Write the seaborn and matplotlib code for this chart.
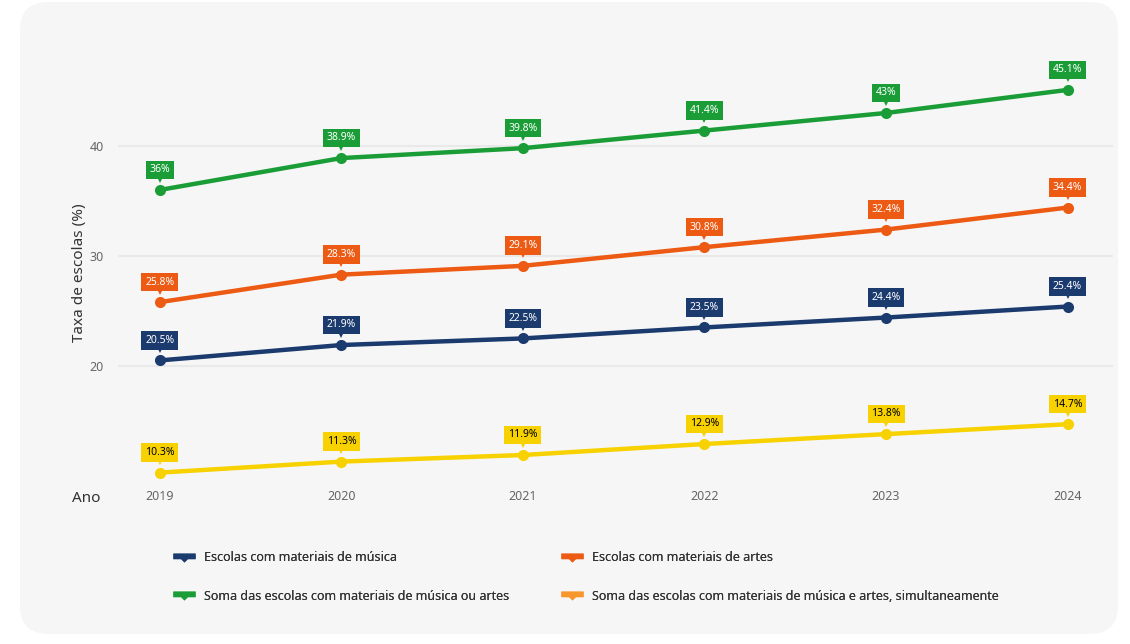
import pandas as pd
import seaborn as sns
import matplotlib.pyplot as plt
from matplotlib.patches import FancyBboxPatch
from matplotlib.lines import Line2D
from matplotlib.path import Path
from matplotlib.transforms import offset_copy

anos = [2019, 2020, 2021, 2022, 2023, 2024]
musica = [20.5, 21.9, 22.5, 23.5, 24.4, 25.4]
artes = [25.8, 28.3, 29.1, 30.8, 32.4, 34.4]
musica_ou_artes = [36.0, 38.9, 39.8, 41.4, 43.0, 45.1]
musica_e_artes = [10.3, 11.3, 11.9, 12.9, 13.8, 14.7]

series = {
    "Escolas com materiais de música": musica,
    "Escolas com materiais de artes": artes,
    "Soma das escolas com materiais de música ou artes": musica_ou_artes,
    "Soma das escolas com materiais de música e artes, simultaneamente": musica_e_artes,
}
cores_linha = ["#1b3a6e", "#ec5a13", "#1a9d37", "#f7d200"]
cores_legenda = ["#1b3a6e", "#ec5a13", "#1a9d37", "#f8962e"]
cores_texto = ["white", "white", "white", "black"]

linhas = []
for nome, valores in series.items():
    for a, v in zip(anos, valores):
        linhas.append({"Ano": a, "Taxa": v, "Serie": nome})
df = pd.DataFrame(linhas)

sns.set_theme(style="white")
plt.rcParams["font.family"] = ["Noto Sans", "DejaVu Sans"]

fig = plt.figure(figsize=(11.3, 6.44), dpi=100)
fig.patch.set_facecolor("white")
W, H = 1130, 644
painel = FancyBboxPatch((20 / W, 10 / H), 1098 / W, 632 / H,
                        boxstyle="round,pad=0,rounding_size=0.025",
                        transform=fig.transFigure, facecolor="#f6f6f6",
                        edgecolor="none", mutation_aspect=W / H, zorder=-5)
fig.patches.append(painel)

ax = fig.add_axes([118 / W, 1 - 488 / H, 995 / W, 430 / H])
ax.set_facecolor("none")

sns.lineplot(data=df, x="Ano", y="Taxa", hue="Serie", palette=cores_linha,
             marker="o", markersize=8, markeredgewidth=0, linewidth=3.2,
             legend=False, ax=ax, zorder=3)

ax.set_xlim(2018.77, 2024.25)
ax.set_ylim(8.9, 48)
ax.set_yticks([20, 30, 40])
ax.set_xticks(anos)
ax.grid(axis="y", color="#e9e9e9", linewidth=1.5)
ax.grid(axis="x", visible=False)
for s in ax.spines.values():
    s.set_visible(False)
ax.tick_params(axis="both", length=0, labelsize=9, labelcolor="#666666")
ax.tick_params(axis="y", pad=10)
ax.tick_params(axis="x", pad=1.5)
ax.set_xlabel("")
ax.set_ylabel("Taxa de escolas (%)", fontsize=11, color="#333333", labelpad=2)
ax.text(-0.018, -0.006, "Ano", transform=ax.transAxes, ha="right", va="top",
        fontsize=11, color="#333333")

# rótulos com caixa e ponteiro
for (nome, valores), cor, ctexto in zip(series.items(), cores_linha, cores_texto):
    tr_pont = offset_copy(ax.transData, fig=fig, y=7.5, units="points")
    for a, v in zip(anos, valores):
        ax.annotate(f"{v:g}%", (a, v), xytext=(0, 14.5), textcoords="offset points",
                    ha="center", va="center", fontsize=7.5, fontweight="bold",
                    color=ctexto, zorder=5,
                    bbox=dict(boxstyle="square,pad=0.36", fc=cor, ec="none"))
        ax.plot([a], [v], marker="v", markersize=5, color=cor,
                markeredgewidth=0, transform=tr_pont, zorder=4)

# legenda
forma = Path([(-1, 0.35), (1, 0.35), (1, -0.15), (0.3, -0.15), (0, -0.45),
              (-0.3, -0.15), (-1, -0.15), (-1, 0.35)],
             [Path.MOVETO] + [Path.LINETO] * 6 + [Path.CLOSEPOLY])
nomes = list(series.keys())
handles = [Line2D([], [], linestyle="none", marker=forma, markersize=16,
                  color=c, markeredgewidth=0) for c in cores_legenda]
for cols, x0 in [((0, 2), 176), ((1, 3), 564)]:
    leg = fig.legend([handles[i] for i in cols], [nomes[i] for i in cols],
                     loc="upper left", bbox_to_anchor=(x0 / W, 1 - 551 / H),
                     frameon=False, fontsize=9, labelcolor="#333333",
                     handlelength=1.3, handletextpad=0.9, labelspacing=2.05,
                     borderpad=0, borderaxespad=0)
    fig.add_artist(leg)

fig.savefig("out.png", dpi=100, facecolor=fig.get_facecolor())
